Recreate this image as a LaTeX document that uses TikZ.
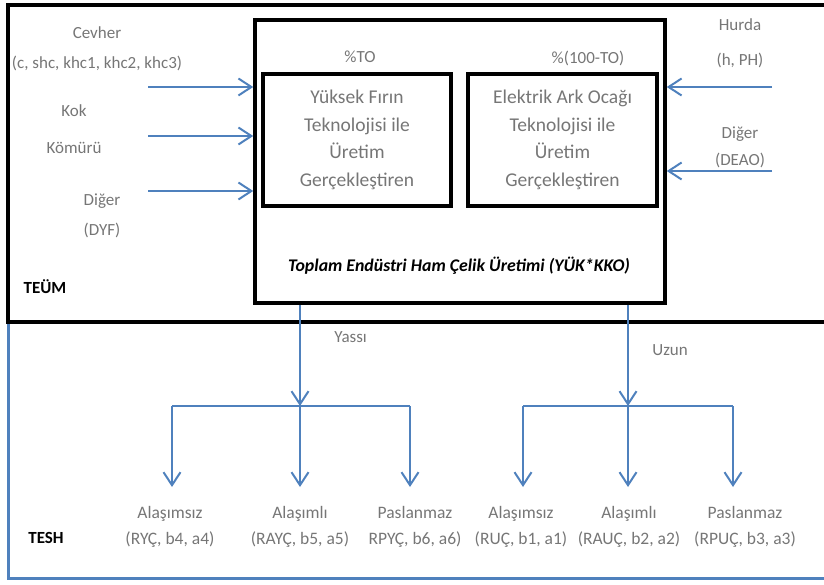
\documentclass[tikz,border=0pt]{standalone}
\usepackage{fontspec}
\setmainfont{Carlito}
\usetikzlibrary{arrows.meta,calc,positioning}
\definecolor{okmavi}{RGB}{79,129,189}
\definecolor{yazigri}{RGB}{118,118,118}

\begin{document}
\begin{tikzpicture}[x=1pt,y=-1pt,
  kutu/.style={draw,line width=3.5pt,align=center},
  etiket/.style={text=yazigri,align=center,font=\fontsize{17}{30}\selectfont},
  altetiket/.style={text=yazigri,align=center,font=\fontsize{17.5}{26}\selectfont},
  bolge/.style={font=\bfseries\fontsize{17}{20}\selectfont},
  akis/.style={okmavi,line width=2pt,-{Straight Barb[length=13pt,width=17pt,line width=2pt]}},
  hat/.style={okmavi,line width=2pt}]
\clip (0,0) rectangle (824,585);

% bolgeler
\draw [okmavi,line width=3pt] (8,322) rectangle (850,578);
\draw [line width=4pt] (8,5) rectangle (850,322);
\node [bolge] (teum) at (45,287) {TEÜM};
\node [bolge] (tesh) at (46,538) {TESH};

\node [kutu,minimum width=410pt,minimum height=283pt] (toplam) at (460,161.5) {};
\node [kutu,minimum width=188pt,minimum height=132pt,text=yazigri,font=\fontsize{19.5}{27.7}\selectfont] (yfirin) at (357,140) {Yüksek Fırın\\Teknolojisi ile\\Üretim\\Gerçekleştiren};
\node [kutu,minimum width=189pt,minimum height=132pt,text=yazigri,font=\fontsize{19.5}{27.7}\selectfont] (eao) at (562.5,140) {Elektrik Ark Ocağı\\Teknolojisi ile\\Üretim\\Gerçekleştiren};
\node [etiket] (to) at (360,57) {\%TO};
\node [etiket] (yuzto) at (588,58) {\%(100-TO)};
\node [font=\bfseries\itshape\fontsize{17.8}{20}\selectfont] (baslik) at (459,266) {Toplam Endüstri Ham Çelik Üretimi (YÜK*KKO)};

% girdiler
\node [etiket] (cevher) at (97,49) {Cevher\\(c, shc, khc1, khc2, khc3)};
\node [etiket] (kok) at (74,129) {Kok\\[7pt]Kömürü};
\node [etiket] (digeryf) at (102,216) {Diğer\\(DYF)};
\node [etiket] (hurda) at (740,43) {Hurda\\[5pt](h, PH)};
\node [etiket,font=\fontsize{17}{27}\selectfont] (digereao) at (740,147) {Diğer\\(DEAO)};

\coordinate (cevher-u) at (148,87);
\coordinate (kok-u) at (148,136);
\coordinate (digeryf-u) at (148,191);
\coordinate (hurda-u) at (772,87);
\coordinate (digereao-u) at (772,171);
\draw [akis] (cevher-u) -- (cevher-u -| toplam.west);
\draw [akis] (kok-u) -- (kok-u -| toplam.west);
\draw [akis] (digeryf-u) -- (digeryf-u -| toplam.west);
\draw [akis] (hurda-u) -- (hurda-u -| toplam.east);
\draw [akis] (digereao-u) -- (digereao-u -| toplam.east);

% urunler
\coordinate (ydal) at (300,406);
\coordinate (udal) at (628,406);
\draw [akis] (toplam.south -| ydal) -- node [etiket,pos=0.32,right=30pt] (yassi) {Yassı} (ydal);
\draw [akis] (toplam.south -| udal) -- node [etiket,pos=0.45,right=20pt] (uzun) {Uzun} (udal);

\node [altetiket] (ryc) at (170,527) {Alaşımsız\\(RYÇ, b4, a4)};
\node [altetiket] (rayc) at (300,527) {Alaşımlı\\(RAYÇ, b5, a5)};
\node [altetiket] (rpyc) at (415,527) {Paslanmaz\\RPYÇ, b6, a6)};
\node [altetiket] (ruc) at (521,527) {Alaşımsız\\(RUÇ, b1, a1)};
\node [altetiket] (rauc) at (629,527) {Alaşımlı\\(RAUÇ, b2, a2)};
\node [altetiket] (rpuc) at (745,527) {Paslanmaz\\(RPUÇ, b3, a3)};

\coordinate (y1) at (172,406);
\coordinate (y3) at (410,406);
\coordinate (u1) at (523,406);
\coordinate (u3) at (733,406);
\draw [hat] (y1) -- (y3);
\draw [hat] (u1) -- (u3);
\draw [akis] (y1) -- (172,487);
\draw [akis] (ydal) -- (300,487);
\draw [akis] (y3) -- (410,487);
\draw [akis] (u1) -- (523,487);
\draw [akis] (udal) -- (628,487);
\draw [akis] (u3) -- (733,487);

\end{tikzpicture}
\end{document}
